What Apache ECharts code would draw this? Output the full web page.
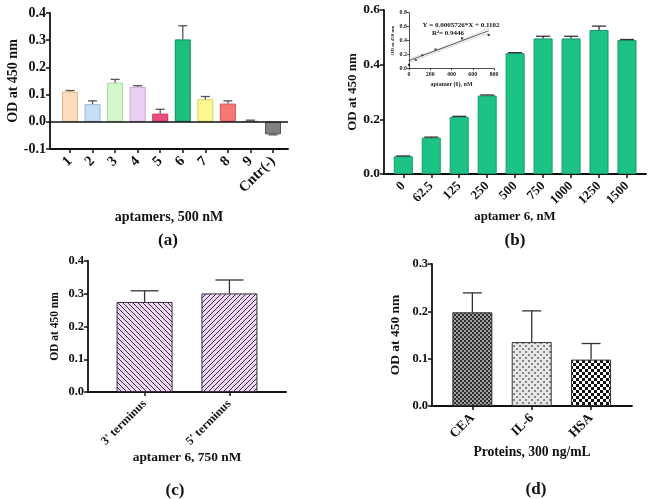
<!DOCTYPE html>
<html>
<head>
<meta charset="utf-8">
<script src="https://cdn.jsdelivr.net/npm/echarts@6/dist/echarts.min.js"></script>
<style>
  html, body { margin: 0; padding: 0; background: #fff; }
  #chart { width: 650px; height: 499px; }
</style>
</head>
<body>
<div id="chart"></div>
<script>
// (a) aptamer screening, 500 nM
const aptamers = ['1', '2', '3', '4', '5', '6', '7', '8', '9', 'Cntr(-)'];
const aptamerOD = [0.111, 0.065, 0.144, 0.129, 0.030, 0.303, 0.083, 0.067, 0.003, -0.046];
const aptamerSD = [0.004, 0.012, 0.012, 0.004, 0.016, 0.050, 0.010, 0.010, 0.003, 0.002];
const aptamerColors = ['#fcdcbd', '#c9dcf7', '#d3f8cc', '#eacff5', '#ee4c7e', '#1cbf7c', '#fbf88f', '#f97676', '#eeeeee', '#808080'];
const aptamerBorders = ['#e2b58c', '#9db8e0', '#a8d9a0', '#c7a3d6', '#c9345f', '#0e8e58', '#d5d060', '#d45252', '#999999', '#555555'];

// (b) aptamer 6 concentration series
const concLabels = ['0', '62.5', '125', '250', '500', '750', '1000', '1250', '1500'];
const concOD = [0.065, 0.133, 0.209, 0.287, 0.442, 0.496, 0.496, 0.527, 0.490];
const concSD = [0.001, 0.002, 0.002, 0.002, 0.002, 0.008, 0.008, 0.014, 0.002];

// (b) inset: linear range
const insetConc = [0, 62.5, 125, 250, 500, 750];
const insetOD = [0.05, 0.12, 0.19, 0.27, 0.43, 0.48];
const fitLine = [[0, 0.110], [750, 0.540]];
const bandUpper = [[0, 0.140], [375, 0.330], [750, 0.575]];
const bandLower = [[0, 0.080], [375, 0.300], [750, 0.505]];

// (c) terminus
const termini = ["3' terminus", "5' terminus"];
const termOD = [0.275, 0.301];
const termSD = [0.034, 0.041];

// (d) proteins
const proteins = ['CEA', 'IL-6', 'HSA'];
const protOD = [0.198, 0.135, 0.098];
const protSD = [0.041, 0.066, 0.034];

const FONT = 'Liberation Serif';

function pattern(size, draw) {
  const c = document.createElement('canvas');
  c.width = size; c.height = size;
  draw(c.getContext('2d'), size);
  return { image: c, repeat: 'repeat' };
}
function stripes(back) {
  return pattern(5, function (g, s) {
    g.fillStyle = '#efd8f2';
    g.fillRect(0, 0, s, s);
    g.strokeStyle = '#3b2a44';
    g.lineWidth = 1;
    g.beginPath();
    for (let k = -s; k <= s; k += s) {
      if (back) { g.moveTo(k, 0); g.lineTo(k + s, s); }
      else { g.moveTo(k, s); g.lineTo(k + s, 0); }
    }
    g.stroke();
  });
}
const protPatterns = [
  pattern(4, function (g) {
    g.fillStyle = '#a0a0a0'; g.fillRect(0, 0, 4, 4);
    g.fillStyle = '#2e2e2e'; g.fillRect(0, 0, 2, 2); g.fillRect(2, 2, 2, 2);
  }),
  pattern(6, function (g) {
    g.fillStyle = '#e6e6e6'; g.fillRect(0, 0, 6, 6);
    g.fillStyle = '#858585'; g.fillRect(0, 0, 2, 2); g.fillRect(3, 3, 2, 2);
  }),
  pattern(6, function (g) {
    g.fillStyle = '#ffffff'; g.fillRect(0, 0, 6, 6);
    g.fillStyle = '#111111'; g.fillRect(0, 0, 3, 3); g.fillRect(3, 3, 3, 3);
  })
];

function axisX(idx, min, max, positions, labels, name, gap, fs, nameFs) {
  return {
    gridIndex: idx, type: 'value', min: min, max: max,
    splitLine: { show: false },
    axisLine: { onZero: false, lineStyle: { color: '#111', width: 1.8 } },
    axisTick: { customValues: positions, length: 4, lineStyle: { color: '#111', width: 1.5 } },
    axisLabel: {
      customValues: positions, rotate: 45, margin: 10,
      fontFamily: FONT, fontWeight: 'bold', fontSize: fs, color: '#111',
      formatter: function (v) { return labels[positions.indexOf(v)]; }
    },
    name: name, nameLocation: 'middle', nameGap: gap,
    nameTextStyle: { fontFamily: FONT, fontWeight: 'bold', fontSize: nameFs, color: '#111' }
  };
}
function axisY(idx, min, max, interval, gap, fs, nameFs) {
  return {
    gridIndex: idx, type: 'value', min: min, max: max, interval: interval,
    splitLine: { show: false },
    axisLine: { show: true, onZero: false, lineStyle: { color: '#111', width: 1.8 } },
    axisTick: { show: true, length: 4, lineStyle: { color: '#111', width: 1.5 } },
    axisLabel: {
      fontFamily: FONT, fontWeight: 'bold', fontSize: fs, color: '#111', margin: 4,
      formatter: function (v) { return v.toFixed(1); }
    },
    name: 'OD at 450 nm', nameLocation: 'middle', nameGap: gap, nameRotate: 90,
    nameTextStyle: { fontFamily: FONT, fontWeight: 'bold', fontSize: nameFs, color: '#111' }
  };
}
function errBars(idx, xs, means, sds, cap, color) {
  return {
    type: 'custom', xAxisIndex: idx, yAxisIndex: idx, z: 5, silent: true,
    data: xs.map(function (x, i) { return [x, means[i], sds[i]]; }),
    renderItem: function (params, api) {
      const m = api.value(1), sd = api.value(2);
      const p0 = api.coord([api.value(0), m]);
      const p1 = api.coord([api.value(0), m >= 0 ? m + sd : m - sd]);
      const st = { stroke: color, lineWidth: 1.3 };
      return {
        type: 'group', children: [
          { type: 'line', shape: { x1: p0[0], y1: p0[1], x2: p1[0], y2: p1[1] }, style: st },
          { type: 'line', shape: { x1: p1[0] - cap, y1: p1[1], x2: p1[0] + cap, y2: p1[1] }, style: st }
        ]
      };
    }
  };
}

const posA = aptamers.map(function (d, i) { return i + 1; });
const posB = concLabels.map(function (d, i) { return i + 1; });
const posC = termini.map(function (d, i) { return 1 + i * 1.5; });
const posD = proteins.map(function (d, i) { return i + 1; });

const txt = function (text, x, y, size) {
  return { text: text, left: x, top: y, textAlign: 'center',
    textStyle: { fontFamily: FONT, fontWeight: 'bold', fontSize: size, color: '#111' } };
};

const chart = echarts.init(document.getElementById('chart'));
chart.setOption({
  animation: false,
  backgroundColor: '#fff',
  title: [
    txt('(a)', 163, 227, 17),
    txt('(b)', 510, 227, 17),
    txt('(c)', 170, 477, 17),
    txt('(d)', 531, 476, 17),
    txt('Y = 0.0005726*X + 0.1102', 456, 16.5, 7),
    txt('R\u00b2= 0.9446', 443, 25, 7)
  ],
  grid: [
    { left: 50, top: 13, width: 238, height: 136 },
    { left: 384, top: 10, width: 262, height: 164 },
    { left: 409, top: 12.7, width: 85, height: 55.6 },
    { left: 88, top: 261, width: 198, height: 131 },
    { left: 432, top: 264, width: 200, height: 142 }
  ],
  xAxis: [
    axisX(0, 0.113, 10.665, posA, aptamers, 'aptamers, 500 nM', 61, 14.5, 14),
    axisX(1, 0.31, 9.68, posB, concLabels, 'aptamer 6, nM', 31, 13, 12.8),
    {
      gridIndex: 2, type: 'value', min: 0, max: 800, interval: 200,
      splitLine: { show: false },
      axisLine: { onZero: false, lineStyle: { color: '#222', width: 0.8 } },
      axisTick: { length: 2, lineStyle: { color: '#222', width: 0.8 } },
      axisLabel: { fontFamily: FONT, fontWeight: 'bold', fontSize: 6, color: '#222', margin: 3 },
      name: 'aptamer (6), nM', nameLocation: 'middle', nameGap: 13,
      nameTextStyle: { fontFamily: FONT, fontWeight: 'bold', fontSize: 6, color: '#222' }
    },
    axisX(3, 0, 3.5, posC, termini, 'aptamer 6, 750 nM', 59, 12, 13.4),
    axisX(4, 0.32, 3.69, posD, proteins, 'Proteins, 300 ng/mL', 39, 13.5, 13.6)
  ],
  yAxis: [
    axisY(0, -0.1, 0.4, 0.1, 27, 14, 14),
    axisY(1, 0, 0.6, 0.2, 19, 13.5, 13),
    {
      gridIndex: 2, type: 'value', min: 0, max: 0.8, interval: 0.2,
      splitLine: { show: false },
      axisLine: { show: true, onZero: false, lineStyle: { color: '#222', width: 0.8 } },
      axisTick: { show: true, length: 2, lineStyle: { color: '#222', width: 0.8 } },
      axisLabel: { fontFamily: FONT, fontWeight: 'bold', fontSize: 6, color: '#222', margin: 2,
        formatter: function (v) { return v.toFixed(1); } },
      name: 'OD at 450 nm', nameLocation: 'middle', nameGap: 13, nameRotate: 90,
      nameTextStyle: { fontFamily: FONT, fontWeight: 'bold', fontSize: 5, color: '#222' }
    },
    axisY(3, 0, 0.4, 0.1, 27, 12.5, 11.5),
    axisY(4, 0, 0.3, 0.1, 29, 12.5, 13.5)
  ],
  series: [
    {
      type: 'bar', xAxisIndex: 0, yAxisIndex: 0, barWidth: 16,
      data: aptamerOD.map(function (v, i) {
        return { value: [posA[i], v],
          itemStyle: { color: aptamerColors[i], borderColor: aptamerBorders[i], borderWidth: 1 } };
      }),
      markLine: {
        silent: true, symbol: 'none', label: { show: false },
        lineStyle: { color: '#111', width: 1.6, type: 'solid' },
        data: [{ yAxis: 0 }]
      }
    },
    errBars(0, posA, aptamerOD, aptamerSD, 4.5, '#555'),
    {
      type: 'bar', xAxisIndex: 1, yAxisIndex: 1, barWidth: 19,
      itemStyle: { color: '#1dc385', borderColor: '#159a66', borderWidth: 1 },
      data: concOD.map(function (v, i) { return [posB[i], v]; })
    },
    errBars(1, posB, concOD, concSD, 7, '#333'),
    {
      type: 'line', xAxisIndex: 2, yAxisIndex: 2, symbol: 'none', smooth: true,
      lineStyle: { color: '#bbb', width: 0.6 }, data: bandUpper
    },
    {
      type: 'line', xAxisIndex: 2, yAxisIndex: 2, symbol: 'none', smooth: true,
      lineStyle: { color: '#bbb', width: 0.6 }, data: bandLower
    },
    {
      type: 'line', xAxisIndex: 2, yAxisIndex: 2, symbol: 'none',
      lineStyle: { color: '#333', width: 0.8 }, data: fitLine
    },
    {
      type: 'scatter', xAxisIndex: 2, yAxisIndex: 2, symbol: 'rect', symbolSize: 2.2,
      itemStyle: { color: '#111' },
      data: insetConc.map(function (c, i) { return [c, insetOD[i]]; })
    },
    {
      type: 'bar', xAxisIndex: 3, yAxisIndex: 3, barWidth: 56,
      data: termOD.map(function (v, i) {
        return { value: [posC[i], v],
          itemStyle: { color: stripes(i === 0), borderColor: '#3b2a44', borderWidth: 1 } };
      })
    },
    errBars(3, posC, termOD, termSD, 14, '#333'),
    {
      type: 'bar', xAxisIndex: 4, yAxisIndex: 4, barWidth: 40,
      data: protOD.map(function (v, i) {
        return { value: [posD[i], v],
          itemStyle: { color: protPatterns[i], borderColor: '#333', borderWidth: 1 } };
      })
    },
    errBars(4, posD, protOD, protSD, 9.5, '#333')
  ]
});
</script>
</body>
</html>
